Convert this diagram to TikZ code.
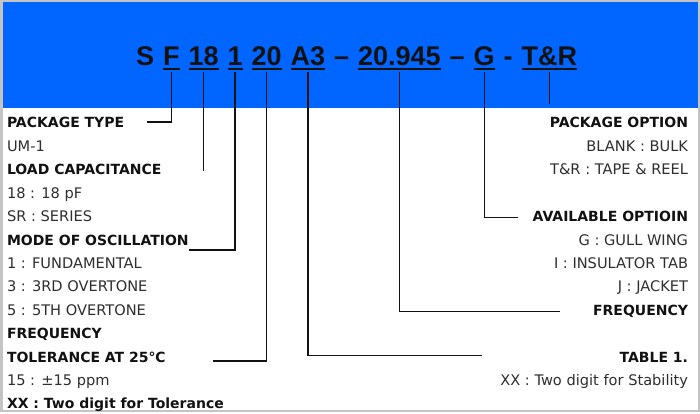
\documentclass[tikz,border=0pt]{standalone}
\usepackage{fontspec}
\setmainfont{DejaVu Sans}
\newfontfamily\codefont{Liberation Sans}
\usetikzlibrary{positioning,calc}
\definecolor{band}{HTML}{0066FF}
\definecolor{frame}{HTML}{C4C4C4}
\definecolor{ink}{HTML}{111111}
\definecolor{soft}{HTML}{2E2E2E}

\begin{document}
\begin{tikzpicture}[x=1pt,y=-1pt,
  node distance=9.4pt,
  code/.style={inner sep=0pt,outer sep=0pt,text=ink,font=\codefont\bfseries\fontsize{27}{30}\selectfont},
  head/.style={inner sep=0pt,outer sep=0pt,text height=11pt,text depth=3pt,text=ink,font=\fontsize{14}{16}\selectfont\bfseries},
  item/.style={head,text=soft,font=\fontsize{14.6}{16}\selectfont},
  lrow/.style={below=of #1.south west,anchor=north west},
  rrow/.style={below=of #1.south east,anchor=north east},
  lead/.style={line width=1.4pt,draw=ink},
  uline/.style={line width=1.8pt,draw=ink}
]
\useasboundingbox (0,0) rectangle (700,414);
\fill[band] (2,2) rectangle (698,108);
\draw[frame,line width=2.5pt] (1.25,1.25) rectangle (698.75,411);
% part number
\node[code,anchor=base west] (cS) at (136,66) {S};
\node[code,base right=9pt of cS] (cF) {F};
\node[code,base right=9pt of cF] (c18) {18};
\node[code,base right=9pt of c18] (c1) {1};
\node[code,base right=9pt of c1] (c20) {20};
\node[code,base right=9pt of c20] (cA3) {A3};
\node[code,base right=9pt of cA3] (d1) {–};
\node[code,base right=9pt of d1] (cFreq) {20.945};
\node[code,base right=9pt of cFreq] (d2) {–};
\node[code,base right=9pt of d2] (cG) {G};
\node[code,base right=9pt of cG] (d3) {-};
\node[code,base right=9pt of d3] (cTR) {T\&R};
\foreach \n in {cF,c18,c1,c20,cA3,cFreq,cG,cTR}
  \draw[uline] ([yshift=-3pt]\n.base west) -- ([yshift=-3pt]\n.base east);
% left column
\node[head,anchor=base west] (ptype) at (7,128) {PACKAGE TYPE};
\node[item,lrow=ptype] (um) {UM-1};
\node[head,lrow=um] (lcap) {LOAD CAPACITANCE};
\node[item,lrow=lcap] (pf) {18 : 18 pF};
\node[item,lrow=pf] (series) {SR : SERIES};
\node[head,lrow=series] (mode) {MODE OF OSCILLATION};
\node[item,lrow=mode] (fund) {1 : FUNDAMENTAL};
\node[item,lrow=fund] (third) {3 : 3RD OVERTONE};
\node[item,lrow=third] (fifth) {5 : 5TH OVERTONE};
\node[head,lrow=fifth] (freqL) {FREQUENCY};
\node[head,lrow=freqL] (tol) {TOLERANCE AT 25℃};
\node[item,lrow=tol] (ppm) {15 : ±15 ppm};
\node[head,lrow=ppm] (tolxx) {XX : Two digit for Tolerance};
% right column
\node[head,anchor=base east] (popt) at (688,128) {PACKAGE OPTION};
\node[item,rrow=popt] (bulk) {BLANK : BULK};
\node[item,rrow=bulk] (reel) {T\&R : TAPE \& REEL};
\node[head,below=32.8pt of reel.south east,anchor=north east] (avail) {AVAILABLE OPTIOIN};
\node[item,rrow=avail] (gull) {G : GULL WING};
\node[item,rrow=gull] (tab) {I : INSULATOR TAB};
\node[item,rrow=tab] (jack) {J : JACKET};
\node[head,rrow=jack] (freqR) {FREQUENCY};
\node[head,below=32.8pt of freqR.south east,anchor=north east] (table) {TABLE 1.};
\node[item,rrow=table] (stab) {XX : Two digit for Stability};
% leads
\draw[lead] ([yshift=-6pt]cF.base) |- ($(ptype.east)+(23,-2)$);
\draw[lead] ([yshift=-6pt]c18.base) -- (c18.base |- lcap.east);
\draw[lead] ([yshift=-6pt]c1.base) |- ($(mode.east)+(0,9)$);
\draw[lead] ([yshift=-6pt]c20.base) |- ($(tol.east)+(47,3)$);
\draw[lead] ([yshift=-6pt]cA3.base) |- ($(table.west)+(-138,-2.5)$);
\draw[lead] ([yshift=-6pt]cFreq.base) |- ($(freqR.west)+(-33,0)$);
\draw[lead] ([yshift=-6pt]cG.base) |- ($(avail.west)+(-15,0)$);
\draw[lead] ([yshift=-6pt]cTR.base) -- ++(0,32);
\end{tikzpicture}
\end{document}
